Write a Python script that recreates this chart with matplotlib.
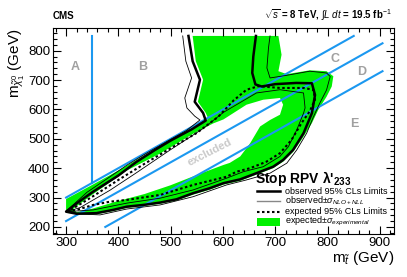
import numpy as np
import matplotlib.pyplot as plt
from matplotlib.ticker import MultipleLocator

plt.rcParams['font.family'] = ['Liberation Sans', 'DejaVu Sans']
plt.rcParams['mathtext.fontset'] = 'custom'
plt.rcParams['mathtext.rm'] = 'Liberation Sans'
plt.rcParams['mathtext.it'] = 'Liberation Sans:italic'
plt.rcParams['mathtext.bf'] = 'Liberation Sans:bold'

# observed 95% CL limit (thick)
obs_x = [534, 542, 556, 546, 562, 567, 540, 500, 470, 435, 400, 350, 320, 300,
         320, 358, 390, 416, 448, 480, 511, 543, 575, 601, 633, 664, 696, 715,
         734, 754, 770, 776, 770, 740, 700, 674, 662, 656, 658, 663]
obs_y = [850, 764, 701, 626, 588, 562, 532, 494, 462, 422, 375, 318, 280, 252,
         245, 247, 258, 269, 275, 283, 294, 315, 332, 349, 362, 383, 405, 428,
         462, 519, 587, 649, 689, 690, 686, 678, 685, 724, 780, 850]

# observed +sigma theory (thin, open)
obsup_x = [523, 529, 540, 527, 531, 546, 556, 530, 499, 450, 416, 380, 340, 301,
           327, 365, 416, 480, 543, 607, 645, 690, 722, 741, 760, 773, 785, 798,
           805, 798, 766, 722, 690, 684, 687, 690]
obsup_y = [850, 764, 707, 639, 605, 577, 564, 528, 497, 447, 410, 366, 318, 255,
           244, 241, 261, 275, 303, 343, 360, 383, 417, 462, 519, 575, 621, 666,
           712, 724, 730, 716, 707, 741, 809, 850]

# observed -sigma theory (thin, closed)
obsdn_x = [301, 327, 384, 435, 499, 562, 601, 664, 709, 754, 757, 754, 741, 725,
           709, 677, 639, 607, 543, 480, 416, 352, 301]
obsdn_y = [252, 266, 325, 385, 462, 535, 590, 656, 667, 656, 605, 587, 530, 473,
           440, 405, 388, 366, 326, 298, 281, 258, 252]

# expected 95% CL limit (dotted, closed)
exp_x = [300, 320, 352, 400, 450, 500, 550, 591, 620, 645, 668, 709, 754, 773,
         776, 766, 750, 731, 709, 683, 652, 626, 607, 543, 480, 416, 384, 352,
         320, 300]
exp_y = [252, 270, 305, 360, 415, 468, 520, 575, 630, 667, 679, 673, 673, 667,
         633, 594, 553, 496, 451, 422, 400, 388, 371, 343, 309, 292, 286, 275,
         258, 252]

# expected +-1 sigma experimental band: outer edge and inner (unfilled) part
band_x = [542, 548, 562, 552, 567, 572, 550, 500, 450, 400, 350, 300, 300,
          330, 358, 390, 416, 448, 480, 511, 543, 575, 601, 633, 664, 696, 715,
          734, 750, 770, 782, 798, 808, 811, 798, 766, 722, 706, 712, 706]
band_y = [850, 764, 701, 626, 588, 568, 546, 494, 444, 392, 343, 295, 248,
          243, 243, 254, 265, 271, 279, 290, 310, 327, 344, 357, 378, 400, 422,
          455, 496, 553, 598, 643, 678, 713, 730, 733, 720, 730, 786, 850]
hole_x = [314, 352, 416, 480, 543, 581, 601, 645, 677, 709, 715, 709, 690, 671,
          652, 633, 613, 601, 550, 500, 450, 397, 350, 320]
hole_y = [262, 312, 392, 450, 517, 552, 566, 616, 633, 639, 616, 582, 564, 542,
          485, 440, 418, 411, 377, 342, 312, 287, 262, 250]

# region boundaries
vline_x = [350, 350]
vline_y = [350, 850]
diag_x = [[300, 850], [300, 905], [375, 905]]
diag_y = [[300, 850], [220, 825], [200, 730]]

region_names = ['A', 'B', 'C', 'D', 'E']
region_x = [317, 447, 814, 866, 852]
region_y = [745, 745, 772, 728, 551]

green = '#00f000'
blue = '#1b98f0'

fig = plt.figure(figsize=(4.07, 2.77), dpi=100)
ax = fig.add_axes([53 / 407, 43 / 277, 341 / 407, 205.7 / 277])

ax.fill(band_x, band_y, color=green, lw=0, zorder=1)
ax.fill(hole_x, hole_y, color='white', lw=0, zorder=1.1)

ax.plot(vline_x, vline_y, color=blue, lw=1.5, zorder=2)
for xs, ys in zip(diag_x, diag_y):
    ax.plot(xs, ys, color=blue, lw=1.5, zorder=2)

ax.plot(obsup_x, obsup_y, color='black', lw=0.6, zorder=3)
ax.plot(obsdn_x, obsdn_y, color='black', lw=0.6, zorder=3)
ax.plot(exp_x, exp_y, color='black', lw=1.5, ls=(0, (1.2, 1.2)), zorder=3)
ax.plot(obs_x, obs_y, color='black', lw=1.8, zorder=4)

for n, x, y in zip(region_names, region_x, region_y):
    ax.text(x, y, n, color='#a0a0a0', fontsize=9, fontweight='bold',
            ha='center', va='center')
ax.text(575, 455, 'excluded', color='#cacaca', fontsize=8, fontweight='bold',
        rotation=27, ha='center', va='center', rotation_mode='anchor')

ax.set_xlim(275, 927)
ax.set_ylim(176, 876)
ax.xaxis.set_major_locator(MultipleLocator(100))
ax.xaxis.set_minor_locator(MultipleLocator(20))
ax.yaxis.set_major_locator(MultipleLocator(100))
ax.yaxis.set_minor_locator(MultipleLocator(20))
ax.tick_params(which='both', direction='in', top=True, right=True, labelsize=9.5,
               width=0.8, pad=2)
ax.tick_params(which='major', length=6)
ax.tick_params(which='minor', length=3)
for s in ax.spines.values():
    s.set_linewidth(0.8)

ax.set_xlabel(r'm$_{\tilde{t}}$ (GeV)', fontsize=11, loc='right', labelpad=0.5)
ax.set_ylabel(r'm$_{\tilde{\chi}^{0}_{1}}$ (GeV)', fontsize=11, loc='top', labelpad=1)

fig.text(53 / 407, 1 - 16 / 277, 'CMS', fontsize=7, fontweight='bold',
         ha='left', va='center')
fig.text(392 / 407, 1 - 15 / 277,
         r'$\sqrt{s}$ = 8 TeV, $\int$$\mathit{L}$ $\mathit{dt}$ = 19.5 fb$^{-1}$',
         fontsize=7, fontweight='bold', ha='right', va='center')

# legend
T = ax.transAxes
ax.text(0.592, 0.272, r"Stop RPV λ'$_{\mathbf{233}}$", transform=T, fontsize=10,
        fontweight='bold', ha='left', va='center')
rows = [0.207, 0.160, 0.108, 0.060]
labels = ['observed 95% CLs Limits', r'observed$\pm\sigma_{NLO+NLL}$',
          'expected 95% CLs Limits', r'expected$\pm\sigma_{experimental}$']
ax.plot([0.597, 0.666], [rows[0]] * 2, transform=T, color='black', lw=1.8)
ax.plot([0.597, 0.666], [rows[1]] * 2, transform=T, color='#888888', lw=1.0)
ax.plot([0.597, 0.666], [rows[2]] * 2, transform=T, color='black', lw=1.5,
        ls=(0, (1.2, 1.2)))
ax.add_patch(plt.Rectangle((0.597, rows[3] - 0.02), 0.069, 0.04, transform=T,
                           color=green, lw=0))
for r, lab in zip(rows, labels):
    ax.text(0.680, r, lab, transform=T, fontsize=6.5, ha='left', va='center')

fig.savefig('out.png', dpi=100)
